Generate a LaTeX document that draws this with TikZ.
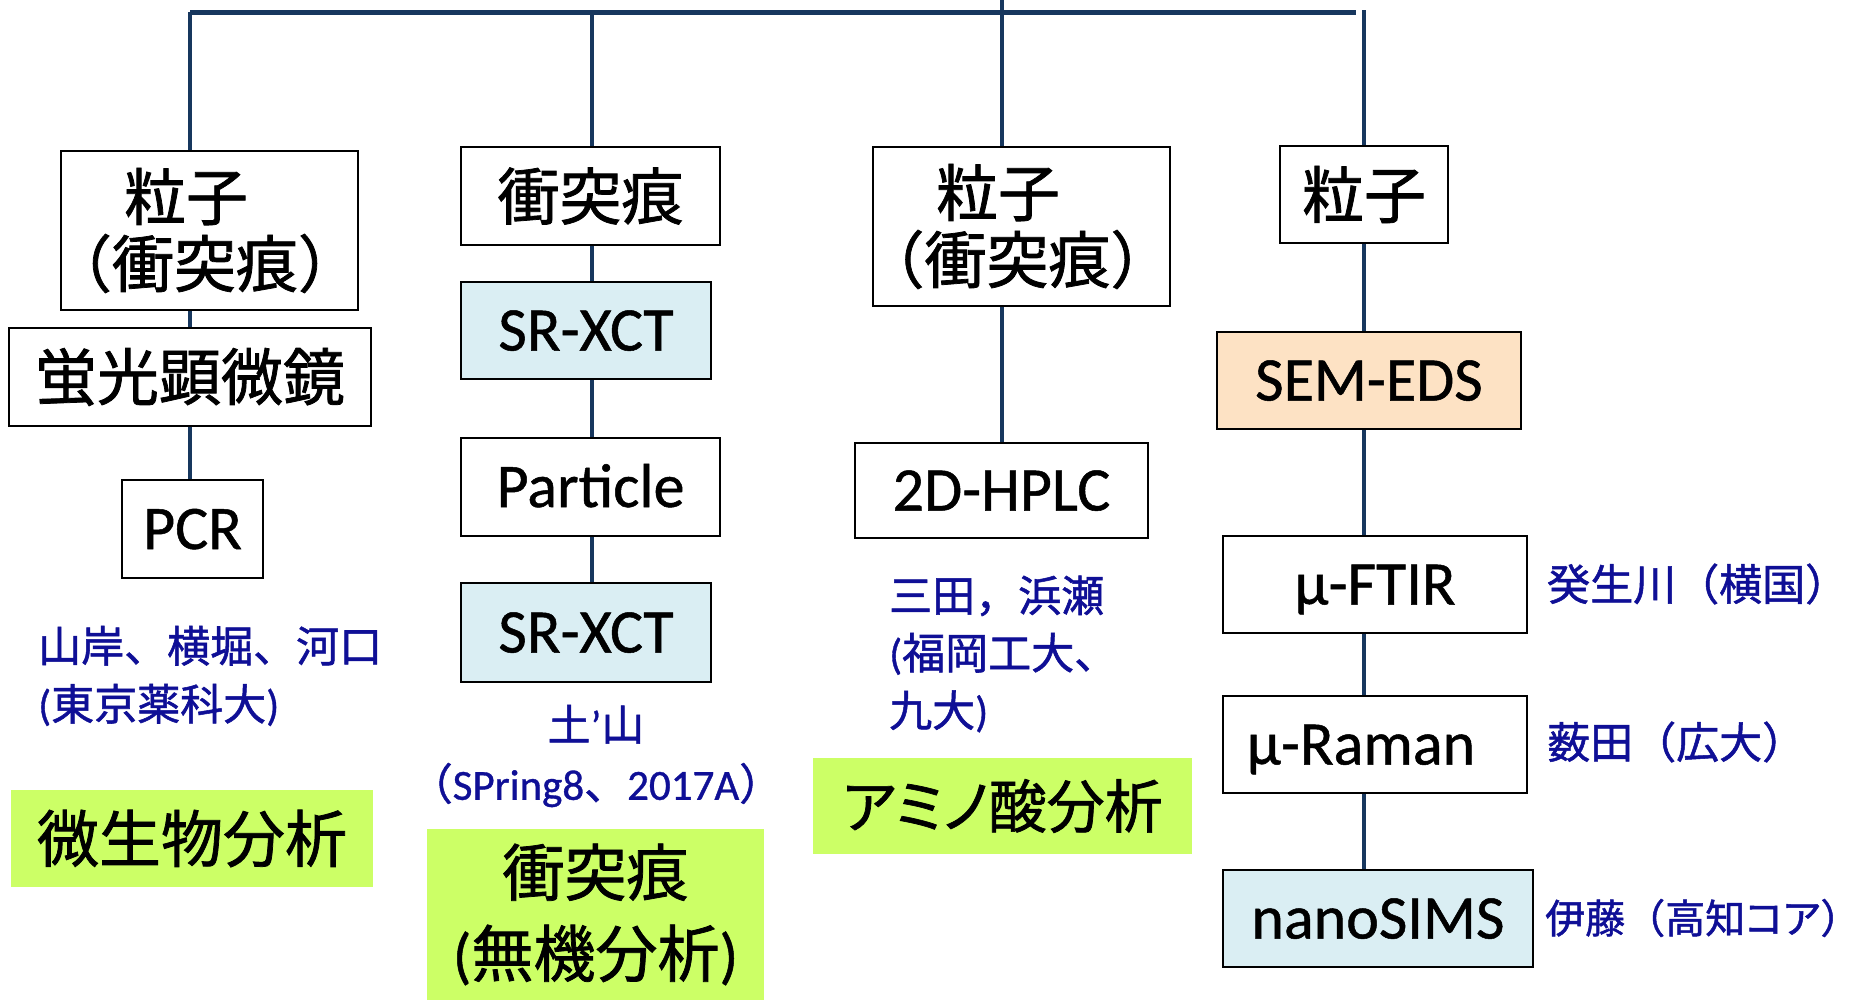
\documentclass[tikz,border=0pt]{standalone}
\usepackage{fontspec}
\setmainfont[FakeBold=0.8]{Carlito}
\newfontfamily\jp[FakeBold=1.2]{Noto Sans CJK JP}
\newfontfamily\jpp[FakeBold=1.2,RawFeature=+palt]{Noto Sans CJK JP}
\definecolor{linec}{HTML}{17375E}
\definecolor{bluec}{RGB}{15,15,150}
\definecolor{lblue}{HTML}{DAEEF3}
\definecolor{peach}{HTML}{FDE2C4}
\definecolor{lime}{HTML}{CCFF66}
\begin{document}
\begin{tikzpicture}[x=1pt,y=-1pt,
  box/.style={draw=black, line width=2pt, fill=white, inner sep=0pt, align=center},
  lat/.style={font=\fontsize{62}{70}\selectfont, text height=40pt, text depth=0pt},
  cjk/.style={font=\jp\fontsize{62}{67}\selectfont},
  greenbox/.style={fill=lime, inner sep=0pt, align=center, font=\fontsize{62}{81}\selectfont},
  lbl/.style={text=bluec, inner sep=0pt, font=\fontsize{43}{58}\selectfont},
  hline/.style={draw=linec, line width=5pt},
  vline/.style={draw=linec, line width=4pt}]
\useasboundingbox[fill=white] (0,0) rectangle (1864,1001);

% column 1
\node[box, cjk, minimum width=297pt, minimum height=159pt] (A1) at (209.5,230.5)
  {\makebox[0pt]{粒子}\hspace*{47pt}\\\makebox[0pt]{（衝突痕）}\hspace*{9pt}};
\node[box, cjk, minimum width=362pt, minimum height=98pt] (A2) at (190,377) {蛍光顕微鏡};
\node[box, lat, minimum width=141pt, minimum height=98pt] (A3) at (192.5,529) {PCR};
\node[lbl, anchor=west, align=left] (T1) at (38,676)
  {{\jp 山岸、横堀、河口}\\({\jp 東京薬科大})};
\node[greenbox, minimum width=362pt, minimum height=97pt] (G1) at (192,838.5) {{\jp 微生物分析}};

% column 2
\node[box, cjk, minimum width=259pt, minimum height=98pt] (B1) at (590.5,196) {衝突痕};
\node[box, lat, fill=lblue, minimum width=250pt, minimum height=97pt] (B2) at (586,330.5) {SR-XCT};
\node[box, lat, minimum width=259pt, minimum height=98pt] (B3) at (590.5,487) {Particle};
\node[box, lat, fill=lblue, minimum width=250pt, minimum height=99pt] (B4) at (586,632.5) {SR-XCT};
\node[lbl, align=center, font=\fontsize{43}{59}\selectfont] (T2) at (596,756)
  {{\jp 土}’{\jp 山}\\{\jp （}SPring8{\jp 、}2017A{\jp ）}};
\node[greenbox, minimum width=337pt, minimum height=171pt] (G2) at (595.5,914.5)
  {{\jp 衝突痕}\\({\jp 無機分析})};

% column 3
\node[box, cjk, minimum width=297pt, minimum height=159pt] (C1) at (1021.5,226.5)
  {\makebox[0pt]{粒子}\hspace*{47pt}\\\makebox[0pt]{（衝突痕）}\hspace*{8pt}};
\node[box, lat, minimum width=293pt, minimum height=95pt] (C2) at (1001.5,490.5) {2D-HPLC};
\node[lbl, anchor=west, align=left, font=\fontsize{43}{57.5}\selectfont] (T3) at (889,654)
  {{\jp 三田，浜瀬}\\({\jp 福岡工大、}\\{\jp 九大})};
\node[greenbox, minimum width=379pt, minimum height=96pt, font=\jp\fontsize{58}{70}\selectfont] (G3) at (1002.5,806) {{\jpp アミノ}酸分析};

% column 4
\node[box, cjk, minimum width=168pt, minimum height=97pt] (D1) at (1364,194.5) {粒子};
\node[box, lat, fill=peach, minimum width=303.6pt, minimum height=97pt] (D2) at (1369,380.5) {SEM-EDS};
\node[box, lat, minimum width=303.5pt, minimum height=97pt] (D3) at (1375,584.5) {μ-FTIR};
\node[box, lat, minimum width=303.5pt, minimum height=97pt] (D4) at (1375,744.5) {μ-Raman\hspace*{28pt}};
\node[box, lat, fill=lblue, minimum width=309.5pt, minimum height=97pt] (D5) at (1378,918.5) {nanoSIMS};
\node[lbl, anchor=west, font=\jp\fontsize{43}{58}\selectfont] (T4) at (1547,584) {癸生川（横国）};
\node[lbl, anchor=west, font=\jp\fontsize{43}{58}\selectfont] (T5) at (1547,742) {薮田（広大）};
\node[lbl, anchor=west, font=\jp\fontsize{40}{58}\selectfont] (T6) at (1545,918) {伊藤（高知{\jpp コア}）};

% connectors
\coordinate (h1) at (190,12);
\coordinate (h2) at (1356,12);
\coordinate (t2) at (592,12);
\coordinate (t3) at (1002,0);
\coordinate (t4) at (1364,10);
\draw[hline] (h1) -- (h2);
\draw[vline] (h1) -- (h1 |- A1.north);
\draw[vline] (h1 |- A1.south) -- (h1 |- A2.north);
\draw[vline] (h1 |- A2.south) -- (h1 |- A3.north);
\draw[vline] (t2) -- (t2 |- B1.north);
\draw[vline] (t2 |- B1.south) -- (t2 |- B2.north);
\draw[vline] (t2 |- B2.south) -- (t2 |- B3.north);
\draw[vline] (t2 |- B3.south) -- (t2 |- B4.north);
\draw[vline] (t3) -- (t3 |- C1.north);
\draw[vline] (t3 |- C1.south) -- (t3 |- C2.north);
\draw[vline] (t4) -- (t4 |- D1.north);
\draw[vline] (t4 |- D1.south) -- (t4 |- D2.north);
\draw[vline] (t4 |- D2.south) -- (t4 |- D3.north);
\draw[vline] (t4 |- D3.south) -- (t4 |- D4.north);
\draw[vline] (t4 |- D4.south) -- (t4 |- D5.north);
\end{tikzpicture}
\end{document}
